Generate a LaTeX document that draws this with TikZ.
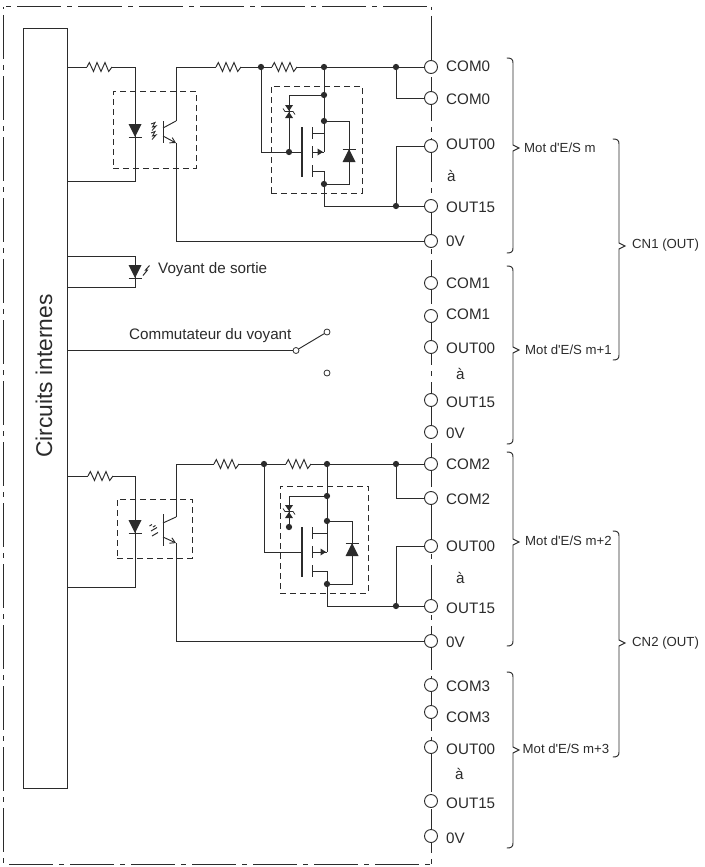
\documentclass[tikz,border=0pt]{standalone}
\usepackage{fontspec}
\setmainfont{Liberation Sans}
\usetikzlibrary{arrows.meta,calc}
\definecolor{ink}{HTML}{2B2B2B}
\tikzset{
  wire/.style={draw=ink,line width=0.95pt,line join=miter},
  frameline/.style={draw=ink,line width=1pt,dash pattern=on 44pt off 6pt on 5pt off 6pt},
  dashbox/.style={draw=ink,line width=0.9pt,dash pattern=on 6pt off 4pt},
  term/.style={circle,draw=ink,line width=0.9pt,fill=white,minimum size=13pt,inner sep=0pt},
  sw/.style={circle,draw=ink,line width=0.8pt,fill=white,minimum size=6pt,inner sep=0pt},
  jdot/.style={circle,fill=ink,minimum size=6.3pt,inner sep=0pt},
  tlab/.style={anchor=west,inner sep=0pt,font=\fontsize{15.2}{18}\selectfont,text=ink},
  wlab/.style={anchor=west,inner sep=0pt,font=\fontsize{13.2}{16}\selectfont,text=ink},
  main/.style={draw=ink,line width=1pt}
}
% resistor between two points 25 apart
\newcommand{\myres}[1]{\draw[wire] (#1) -- ++(2.3,-4.5) -- ++(4.2,9) -- ++(3.5,-9) -- ++(4,9) -- ++(4,-9) -- ++(3.7,9) -- ++(3.3,-4.5);}
% LED with apex at x,y
\newcommand{\myled}[2]{\fill[ink] (#1-6.5,#2-13) -- (#1+6.5,#2-13) -- (#1,#2) -- cycle; \draw[wire] (#1-6.5,#2) -- (#1+6.5,#2);}
% diode pointing up, apex at x,y
\newcommand{\mydiode}[2]{\fill[ink] (#1-6.5,#2+13) -- (#1+6.5,#2+13) -- (#1,#2) -- cycle; \draw[wire] (#1-6.5,#2) -- (#1+6.5,#2);}
% zener, top y
\newcommand{\myzener}[2]{\fill[ink] (#1-4,#2) -- (#1+4,#2) -- (#1,#2+6) -- cycle; \fill[ink] (#1-4,#2+13) -- (#1+4,#2+13) -- (#1,#2+7) -- cycle;
 \draw[ink,line width=0.8pt] (#1-6,#2+3.5) -- (#1-4,#2+6.5) -- (#1+4,#2+6.5) -- (#1+6,#2+9.5);}
% brace: x, top, tip, bottom
\newcommand{\mybrace}[4]{\draw[wire,line cap=round] (#1-6,#2) .. controls (#1-2,#2) and (#1,#2+1) .. (#1,#2+5) -- (#1,#3-3) -- (#1+6,#3) -- (#1,#3+3) -- (#1,#4-5) .. controls (#1,#4-1) and (#1-2,#4) .. (#1-6,#4);}
% MOS: plate x, plate top y, source x
\newcommand{\mymos}[3]{
 \draw[ink,line width=1.1pt] (#1,#2) -- (#1,#2+50);
 \draw[wire] (#1+10,#2) -- (#1+10,#2+12) (#1+10,#2+19) -- (#1+10,#2+31) (#1+10,#2+38) -- (#1+10,#2+50);
 \draw[wire] (#1+10,#2+6) -- (#3,#2+6) (#1+10,#2+25) -- (#3,#2+25) (#1+10,#2+44) -- (#3,#2+44);
 \fill[ink] (#3-6.5,#2+21.5) -- (#3-1,#2+25) -- (#3-6.5,#2+28.5) -- cycle;}
\begin{document}
\begin{tikzpicture}[x=1pt,y=-1pt]
\useasboundingbox (0,0) rectangle (704,867);
% frame
\draw[frameline,dash phase=47.5pt] (3.5,7) -- (431,7);
\draw[frameline,dash phase=53pt] (3.5,7) -- (3.5,864);
\draw[frameline,dash phase=55.5pt] (3.5,864) -- (431,864);
\draw[frameline,dash phase=52pt] (431,7) -- (431,864);
% internal circuits block
\node[main,minimum width=44pt,minimum height=759pt,inner sep=0pt] (box) at (45,408.5) {};
\node[rotate=90,inner sep=0pt,font=\fontsize{22.8}{26}\selectfont,text=ink] (boxlab) at (44,376) {Circuits internes};
% terminals
\foreach \n/\y/\t/\ly in {
 a/67/COM0/66, b/98/COM0/99, c/146/OUT00/144, d/206/OUT15/207, e/241/0V/241,
 f/283/COM1/283, g/316/COM1/314, h/347/OUT00/348, i/400/OUT15/402, j/432/0V/433,
 k/464/COM2/464, l/498/COM2/499, m/546/OUT00/546, n/606/OUT15/608, o/641/0V/642,
 p/685/COM3/686, q/712/COM3/717, r/747/OUT00/749, s/801/OUT15/803, t/836/0V/838}{
 \node[term] (t\n) at (431,\y) {};
 \node[tlab] (l\n) at (446,\ly) {\t};
}
\node[tlab] (a1) at (447,176) {à};
\node[tlab] (a2) at (456,374) {à};
\node[tlab] (a3) at (456,578) {à};
\node[tlab] (a4) at (455,774) {à};
% ---- first output block
\coordinate (r1a) at (87,67); \coordinate (r1b) at (112,67);
\draw[wire] (box.east |- r1a) -- (r1a); \myres{r1a}
\coordinate (led1) at (135,181);
\draw[wire] (r1b) -| (led1) -- (box.east |- led1);
\myled{135}{137}
\node[dashbox,minimum width=83pt,minimum height=76.5pt,inner sep=0pt] (opto1) at (154.5,129.75) {};
\draw[wire] (163,121) -- (163,143);
\coordinate (c1) at (176,121); \coordinate (e1) at (176,143);
\draw[wire] (163,128) -- (c1);
\draw[wire,-{Straight Barb[length=5pt,width=6pt]}] (163,136) -- (e1);
\draw[ink,line width=0.9pt] (151,124) -- (155,122.5) -- (152.5,127) -- (156,126) -- (152,130.5) (151,133) -- (155,131.5) -- (152.5,136) -- (156,135) -- (152,139.5);
\coordinate (r2a) at (216,67); \coordinate (r2b) at (241,67);
\node[jdot] (j1) at (261,67) {};
\node[jdot] (j2) at (324,67) {};
\node[jdot] (j3) at (396,67) {};
\coordinate (r3a) at (272,67); \coordinate (r3b) at (297,67);
\draw[wire] (c1) |- (r2a); \myres{r2a}
\draw[wire] (r2b) -- (j1) -- (r3a); \myres{r3a}
\draw[wire] (r3b) -- (j2) -- (j3) -- (ta);
\draw[wire] (j3) |- (tb);
\draw[wire] (e1) |- (te);
\node[dashbox,minimum width=91pt,minimum height=107pt,inner sep=0pt] (mos1) at (316.5,139.5) {};
\node[jdot] (j4) at (324,95) {};
\node[jdot] (j5) at (324,121) {};
\node[jdot] (j6) at (289,152) {};
\node[jdot] (j7) at (324,184) {};
\node[jdot] (j8) at (396,206) {};
\coordinate (g1) at (302,152.5);
\coordinate (d1) at (349,121);
\draw[wire] (j1) |- (g1);
\draw[wire] (j2) -- (j4) -- (j5) -- (324,152);
\draw[wire] (j4) -| (j6);
\mymos{302}{127}{324}
\draw[wire] (324,171) -- (j7) -- (324,206) -- (j8) -- (td);
\draw[wire] (j8) |- (tc);
\draw[wire] (j5) -| (d1) |- (j7);
\mydiode{349}{149}
\myzener{289}{105}
% ---- indicator
\coordinate (v1) at (135,256); \coordinate (v2) at (135,287);
\draw[wire] (box.east |- v1) -- (v1) -- (v2) -- (box.east |- v2);
\myled{135}{278}
\draw[ink,line width=1pt] (143,275.5) -- (147.5,270) -- (145.5,270) -- (149.5,265.5);
\node[tlab] (vlab) at (158,270) {Voyant de sortie};
\node[tlab] (clab) at (129,336) {Commutateur du voyant};
\node[sw] (s0) at (296,350.5) {};
\node[sw] (s1) at (327,332) {};
\node[sw] (s2) at (327,373) {};
\draw[wire] (box.east |- s0) -- (s0);
\draw[wire] (s0) -- (s1);
% ---- second output block
\coordinate (r4a) at (88,476); \coordinate (r4b) at (113,476);
\draw[wire] (box.east |- r4a) -- (r4a); \myres{r4a}
\coordinate (led2) at (135,587);
\draw[wire] (r4b) -| (led2) -- (box.east |- led2);
\myled{135}{533}
\node[dashbox,minimum width=75pt,minimum height=59pt,inner sep=0pt] (opto2) at (154.5,528.5) {};
\draw[wire] (163,514) -- (163,546);
\coordinate (c2) at (176,517); \coordinate (e2) at (176,543);
\draw[wire] (163,523) -- (c2);
\draw[wire,-{Straight Barb[length=5pt,width=6pt]}] (163,537) -- (e2);
\draw[ink,line width=1pt] (149.5,526) -- (152,524.5) (153,527) -- (155.5,525.5) (151,531) -- (157,527.5) (152,536) -- (158,532.5);
\coordinate (r5a) at (214,464); \coordinate (r5b) at (239,464);
\node[jdot] (k1) at (264,464) {};
\node[jdot] (k2) at (327,464) {};
\node[jdot] (k3) at (396,464) {};
\coordinate (r6a) at (286,464); \coordinate (r6b) at (311,464);
\draw[wire] (c2) |- (r5a); \myres{r5a}
\draw[wire] (r5b) -- (k1) -- (r6a); \myres{r6a}
\draw[wire] (r6b) -- (k2) -- (k3) -- (tk);
\draw[wire] (k3) |- (tl);
\draw[wire] (e2) |- (to);
\node[dashbox,minimum width=88pt,minimum height=107pt,inner sep=0pt] (mos2) at (324,539.5) {};
\node[jdot] (k4) at (327,496) {};
\node[jdot] (k5) at (327,521) {};
\node[jdot] (k6) at (289,527) {};
\node[jdot] (k7) at (327,584) {};
\node[jdot] (k8) at (396,606) {};
\coordinate (g2) at (302,552);
\coordinate (d2) at (352,521);
\draw[wire] (k1) |- (g2);
\draw[wire] (k2) -- (k4) -- (k5) -- (327,552);
\draw[wire] (k4) -| (k6);
\mymos{302}{527}{327}
\draw[wire] (327,571) -- (k7) -- (327,606) -- (k8) -- (tn);
\draw[wire] (k8) |- (tm);
\draw[wire] (k5) -| (d2) |- (k7);
\mydiode{352}{543}
\myzener{289}{505}
% ---- braces and labels
\mybrace{513}{58}{148}{253}
\mybrace{513}{266}{350}{444}
\mybrace{513}{452}{542}{646}
\mybrace{513}{672}{750}{848}
\mybrace{619}{139}{246}{360}
\mybrace{619}{531}{643}{757}
\node[wlab] (w1) at (524,148) {Mot d\textquotesingle E/S m};
\node[wlab] (w2) at (525,350) {Mot d\textquotesingle E/S m+1};
\node[wlab] (w3) at (525,541) {Mot d\textquotesingle E/S m+2};
\node[wlab] (w4) at (522.5,749) {Mot d\textquotesingle E/S m+3};
\node[wlab] (cn1) at (632,245) {CN1 (OUT)};
\node[wlab] (cn2) at (632,643) {CN2 (OUT)};
\end{tikzpicture}
\end{document}
